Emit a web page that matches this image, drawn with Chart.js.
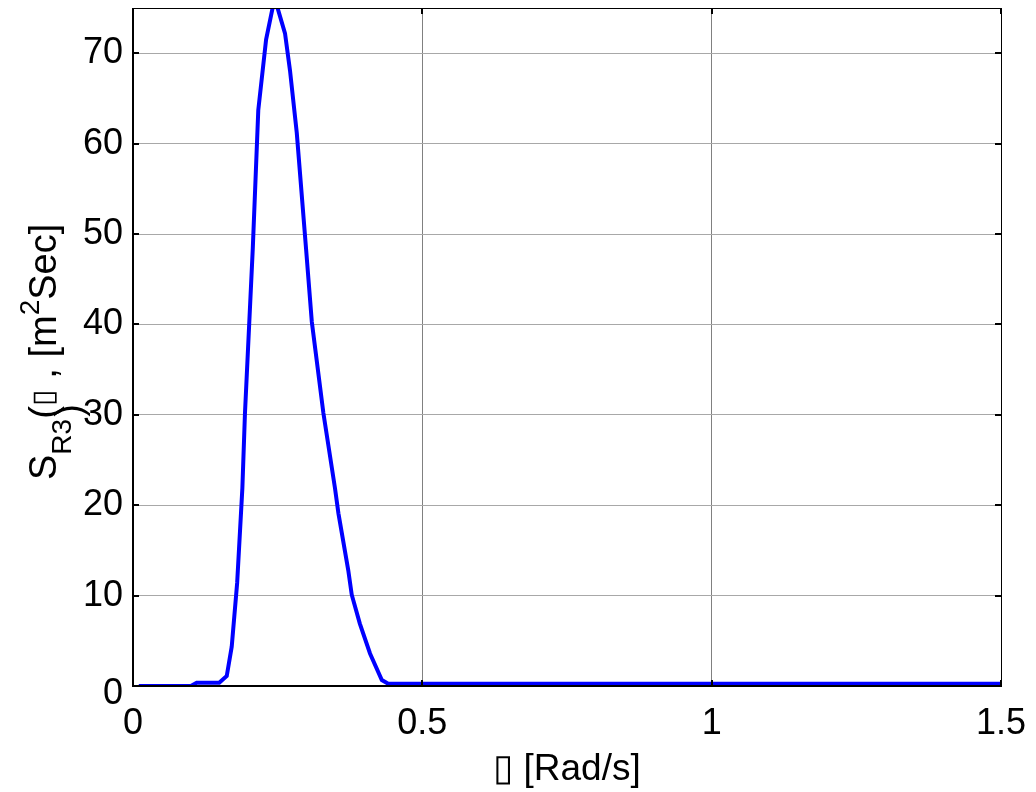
<!DOCTYPE html>
<html>
<head>
<meta charset="utf-8">
<script src="https://cdn.jsdelivr.net/npm/chart.js@4/dist/chart.umd.min.js"></script>
<style>
  html, body { margin: 0; padding: 0; background: #fff; }
  #wrap { width: 1036px; height: 792px; position: relative; }
</style>
</head>
<body>
<div id="wrap"><canvas id="c"></canvas></div>
<script>
// Frequency samples [rad/s]
const omega = [0.01, 0.10, 0.11, 0.149, 0.162, 0.1706, 0.180, 0.189, 0.1935, 0.207, 0.2165, 0.230, 0.2425, 0.248,
               0.2627, 0.2713, 0.283, 0.299, 0.309, 0.329, 0.349, 0.355, 0.372, 0.378, 0.392, 0.4096, 0.430, 0.441, 1.5];
// Response spectrum S_R3 [m^2 s]
const spectrum = [0.0, 0.0, 0.35, 0.35, 1.1, 4.35, 11.4, 21.9, 30.2, 48.4, 63.7, 71.5, 75.4, 75.4,
                  72.2, 68.1, 61.2, 48.4, 40.3, 30.2, 21.9, 19.1, 12.8, 10.1, 6.9, 3.6, 0.66, 0.25, 0.25];
const xTicks = [0, 0.5, 1, 1.5];
const xTickLabels = ['0', '0.5', '1', '1.5'];
const yTicks = [0, 10, 20, 30, 40, 50, 60, 70];

const FONT = '"Liberation Sans", Arial, sans-serif';

const canvas = document.getElementById('c');
canvas.width = 1036; canvas.height = 792;

// Box frame with inward tick marks on all four sides; the y "0" label sits a bit low
const framePlugin = {
  id: 'frame',
  afterDraw(chart) {
    const { ctx, chartArea: a, scales } = chart;
    ctx.save();
    ctx.strokeStyle = '#000';
    ctx.lineWidth = 1;
    ctx.strokeRect(a.left + 0.5, a.top + 0.5, a.right - a.left, a.bottom - a.top);
    ctx.lineWidth = 2;
    ctx.beginPath();
    ctx.moveTo(a.left, a.top); ctx.lineTo(a.left, a.bottom); ctx.lineTo(a.right + 1, a.bottom);
    ctx.stroke();
    const L = 6;
    ctx.beginPath();
    yTicks.forEach(v => {
      const y = Math.round(scales.y.getPixelForValue(v));
      ctx.moveTo(a.left, y); ctx.lineTo(a.left + L, y);
      ctx.moveTo(a.right, y); ctx.lineTo(a.right - L, y);
    });
    xTicks.forEach(v => {
      const x = Math.round(scales.x.getPixelForValue(v));
      ctx.moveTo(x, a.bottom); ctx.lineTo(x, a.bottom - L);
      ctx.moveTo(x, a.top); ctx.lineTo(x, a.top + L);
    });
    ctx.stroke();
    ctx.fillStyle = '#000';
    ctx.font = '36px ' + FONT;
    ctx.textAlign = 'right';
    ctx.textBaseline = 'middle';
    ctx.fillText(String(yTicks[0]), a.left - 10, scales.y.getPixelForValue(yTicks[0]) + 8);
    ctx.restore();
  }
};

// Rotated y-axis title with subscript / superscript parts
const yTitlePlugin = {
  id: 'yTitle',
  afterDraw(chart) {
    const { ctx } = chart;
    const parts = [
      { t: 'S', size: 38, dy: 0 },
      { t: 'R3', size: 28, dy: 15 },
      { t: '(', size: 38, dy: 0, mark: true },
      { t: '\u25AF', size: 30, dy: -3 },
      { t: ')', size: 38, dy: 26, atMark: 2 },
      { t: ' , ', size: 38, dy: 0 },
      { t: '[m', size: 38, dy: 0 },
      { t: '2', size: 28, dy: -17 },
      { t: 'Sec]', size: 38, dy: 0 }
    ];
    ctx.save();
    ctx.translate(56, 480);
    ctx.rotate(-Math.PI / 2);
    ctx.fillStyle = '#000';
    ctx.textBaseline = 'alphabetic';
    let x = 0, markX = 0;
    parts.forEach(p => {
      ctx.font = p.size + 'px ' + FONT;
      const w = ctx.measureText(p.t).width;
      if (p.atMark !== undefined) {
        ctx.fillText(p.t, markX + p.atMark, p.dy);
      } else {
        if (p.mark) markX = x;
        ctx.fillText(p.t, x, p.dy);
        x += w;
      }
    });
    ctx.restore();
  }
};

new Chart(canvas, {
  type: 'line',
  data: {
    datasets: [{
      data: omega.map((w, i) => ({ x: w, y: spectrum[i] })),
      borderColor: '#0000ff',
      borderWidth: 4,
      pointRadius: 0,
      tension: 0,
      fill: false
    }]
  },
  options: {
    responsive: false,
    animation: false,
    events: [],
    layout: { padding: { top: 8, right: 35, left: 0, bottom: 0 } },
    plugins: { legend: { display: false }, tooltip: { enabled: false } },
    scales: {
      x: {
        type: 'linear',
        min: 0, max: 1.5,
        afterBuildTicks(s) { s.ticks = xTicks.map(v => ({ value: v })); },
        afterFit(s) { s.height = 106; s.paddingLeft = 0; s.paddingRight = 0; },
        ticks: {
          color: '#000',
          font: { family: FONT, size: 36 },
          padding: 16,
          maxRotation: 0,
          callback: (v, i) => xTickLabels[i]
        },
        grid: { color: '#808080', lineWidth: 1, drawTicks: false },
        border: { display: false },
        title: {
          display: true,
          text: '\u25AF [Rad/s]',
          color: '#000',
          font: { family: FONT, size: 37 },
          padding: { top: 0, bottom: 0 }
        }
      },
      y: {
        type: 'linear',
        min: 0, max: 75,
        afterBuildTicks(s) { s.ticks = yTicks.map(v => ({ value: v })); },
        afterFit(s) { s.width = 133; s.paddingTop = 0; s.paddingBottom = 0; },
        ticks: {
          color: '#000',
          font: { family: FONT, size: 36 },
          padding: 10,
          callback: v => (v === 0 ? '' : String(v))
        },
        grid: { color: '#a8a8a8', lineWidth: 1, drawTicks: false },
        border: { display: false }
      }
    }
  },
  plugins: [framePlugin, yTitlePlugin]
});
</script>
</body>
</html>
